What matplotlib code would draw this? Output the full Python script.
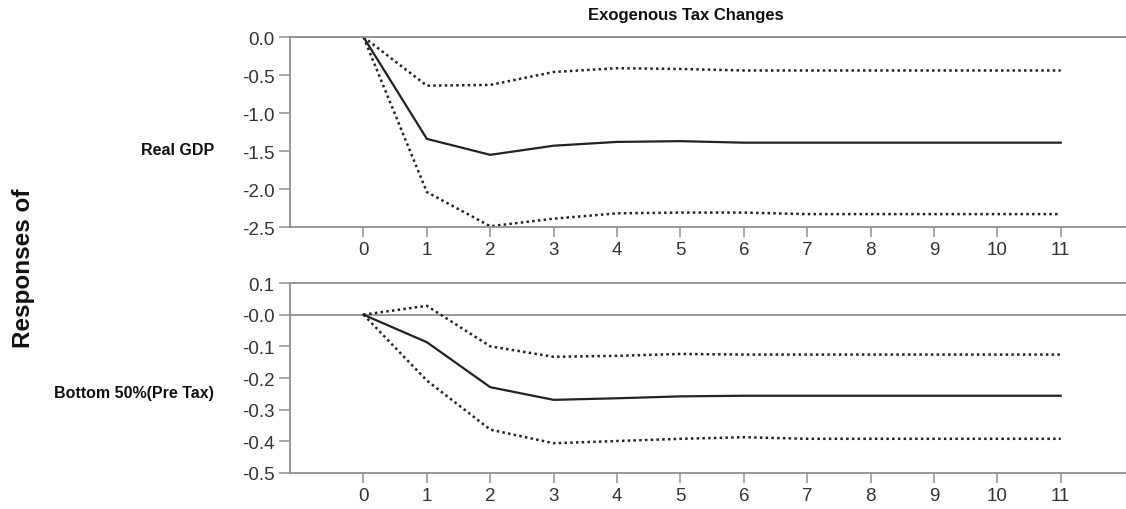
import numpy as np
import matplotlib
matplotlib.use("Agg")
import matplotlib.pyplot as plt

plt.rcParams['font.family'] = ['Liberation Sans', 'DejaVu Sans']

# horizons
horizon = [0, 1, 2, 3, 4, 5, 6, 7, 8, 9, 10, 11]

# Real GDP response and bands
gdp_mid = [0.0, -1.34, -1.55, -1.43, -1.38, -1.37, -1.39, -1.39, -1.39, -1.39, -1.39, -1.39]
gdp_hi = [0.0, -0.64, -0.63, -0.46, -0.41, -0.42, -0.44, -0.44, -0.44, -0.44, -0.44, -0.44]
gdp_lo = [0.0, -2.04, -2.49, -2.39, -2.32, -2.31, -2.31, -2.33, -2.33, -2.33, -2.33, -2.33]

# Bottom 50% pre-tax income response and bands
b50_mid = [0.0, -0.087, -0.229, -0.269, -0.264, -0.258, -0.256, -0.256, -0.256, -0.256, -0.256, -0.256]
b50_hi = [0.0, 0.028, -0.100, -0.133, -0.130, -0.124, -0.126, -0.126, -0.126, -0.126, -0.126, -0.126]
b50_lo = [0.0, -0.208, -0.363, -0.406, -0.399, -0.392, -0.387, -0.392, -0.392, -0.392, -0.392, -0.392]

gdp_ticks = [0.0, -0.5, -1.0, -1.5, -2.0, -2.5]
gdp_ticklabels = ['0.0', '-0.5', '-1.0', '-1.5', '-2.0', '-2.5']
b50_ticks = [0.1, 0.0, -0.1, -0.2, -0.3, -0.4, -0.5]
b50_ticklabels = ['0.1', '-0.0', '-0.1', '-0.2', '-0.3', '-0.4', '-0.5']

fig = plt.figure(figsize=(11.26, 5.10), dpi=100)
ax1 = fig.add_axes([0.2575, 0.5529, 0.7425, 0.3725])
ax2 = fig.add_axes([0.2575, 0.0706, 0.7425, 0.3725])

spine_col = '#909090'
line_col = '#222222'
tick_col = '#333333'

panels = [
    (ax1, gdp_mid, gdp_hi, gdp_lo, gdp_ticks, gdp_ticklabels, (-2.5, 0.0)),
    (ax2, b50_mid, b50_hi, b50_lo, b50_ticks, b50_ticklabels, (-0.5, 0.1)),
]

for ax, mid, hi, lo, ticks, labels, ylim in panels:
    ax.plot(horizon, mid, color=line_col, linewidth=1.6, solid_joinstyle='miter')
    ax.plot(horizon, hi, color=line_col, linewidth=1.8, linestyle=(0, (1, 1.3)))
    ax.plot(horizon, lo, color=line_col, linewidth=1.8, linestyle=(0, (1, 1.3)))
    ax.axhline(0, color=spine_col, linewidth=1.3, zorder=0)
    ax.set_xlim(-1.16, 12.03)
    ax.set_ylim(*ylim)
    ax.set_xticks(horizon)
    ax.set_xticklabels([str(h) for h in horizon])
    ax.set_yticks(ticks)
    ax.set_yticklabels(labels)
    ax.spines['right'].set_visible(False)
    for s in ['top', 'left', 'bottom']:
        ax.spines[s].set_color(spine_col)
        ax.spines[s].set_linewidth(1.3)
    ax.tick_params(axis='both', direction='out', colors=spine_col, labelcolor=tick_col,
                   labelsize=13.5, width=1.1)
    ax.tick_params(axis='y', length=8, pad=3)
    ax.tick_params(axis='x', length=7, pad=3)
    for t in ax.get_yticklabels() + ax.get_xticklabels():
        t.set_color(tick_col)

fig.text(0.609, 0.97, 'Exogenous Tax Changes', ha='center', va='center',
         fontsize=12, fontweight='bold', color='#111111')
fig.text(0.190, 0.705, 'Real GDP', ha='right', va='center',
         fontsize=11.5, fontweight='bold', color='#111111')
fig.text(0.190, 0.229, 'Bottom 50%(Pre Tax)', ha='right', va='center',
         fontsize=11.5, fontweight='bold', color='#111111')
fig.text(0.021, 0.4745, 'Responses of', ha='center', va='center', rotation=90,
         fontsize=17.5, fontweight='bold', color='#111111')

fig.savefig('out.png', dpi=100)
